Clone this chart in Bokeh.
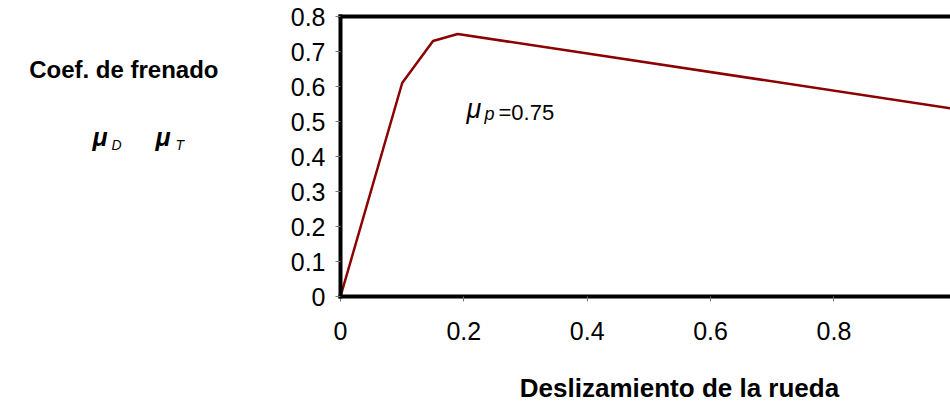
from bokeh.plotting import figure
from bokeh.layouts import column, row
from bokeh.models import (LinearAxis, FixedTicker, CustomJSTickFormatter,
                          Label, Range1d)
from bokeh.embed import file_html
from bokeh.resources import INLINE

# Brake coefficient versus wheel slip
slip = [0.0, 0.0, 0.10, 0.15, 0.19, 1.00]
brake_coef = [0.04, 0.0, 0.61, 0.73, 0.75, 0.535]
mu_peak = max(brake_coef)

x_ticks = [0, 0.2, 0.4, 0.6, 0.8, 1.0]
y_ticks = [0, 0.1, 0.2, 0.3, 0.4, 0.5, 0.6, 0.7, 0.8]

FONT = "Liberation Sans"
W, H = 950, 402
SIDE_W = 230          # strip holding the y title
TOP_H = 352           # height of the chart row
FRAME_LEFT = 340      # page x of the plot frame's left edge
FRAME_BOTTOM = 296    # page y of the plot frame's bottom edge
LIFT = 0.36           # label anchor sits this many ems below the glyph baseline


def text_strip(width, height):
    """A bare figure whose data units are pixels from its top-left corner."""
    f = figure(width=width, height=height, title=None,
               x_range=Range1d(0, width), y_range=Range1d(height, 0),
               output_backend="svg", toolbar_location=None,
               min_border=0, x_axis_location=None, y_axis_location=None)
    f.outline_line_color = None
    f.grid.visible = False
    f.background_fill_color = "white"
    f.border_fill_color = "white"
    return f


def put(fig, text, x, y, size, style="normal", align="left"):
    fig.add_layout(Label(x=x, y=y - LIFT * size, text=text, text_font=FONT,
                         text_font_size=f"{size}px", text_font_style=style,
                         text_align=align, text_baseline="alphabetic",
                         text_color="black"))


# ---- main chart -----------------------------------------------------------
p = figure(width=W - SIDE_W, height=TOP_H, title=None,
           x_range=Range1d(0, 0.989), y_range=Range1d(0, 0.8),
           output_backend="svg", toolbar_location=None,
           min_border_left=FRAME_LEFT - SIDE_W, min_border_right=0,
           min_border_top=16, min_border_bottom=TOP_H - FRAME_BOTTOM)
p.outline_line_color = None
p.xgrid.grid_line_color = None
p.ygrid.grid_line_color = None
p.background_fill_color = "white"
p.border_fill_color = "white"

fmt = CustomJSTickFormatter(code="return String(Math.round(tick * 10) / 10)")
p.xaxis.ticker = FixedTicker(ticks=x_ticks)
p.yaxis.ticker = FixedTicker(ticks=y_ticks)
for ax in (p.xaxis[0], p.yaxis[0]):
    ax.formatter = fmt
    ax.axis_line_width = 4
    ax.axis_line_color = "black"
    ax.axis_line_cap = "square"
    ax.major_tick_in = 0
    ax.major_tick_out = 5
    ax.major_tick_line_color = "#777777"
    ax.major_tick_line_width = 1
    ax.minor_tick_line_color = None
    ax.major_label_text_font = FONT
    ax.major_label_text_font_size = "25px"
    ax.major_label_text_color = "black"
p.yaxis.major_label_standoff = 10
p.xaxis.major_label_standoff = 20

top = LinearAxis(ticker=FixedTicker(ticks=[]), axis_line_width=4,
                 axis_line_color="black", axis_line_cap="square",
                 major_tick_line_color=None, minor_tick_line_color=None,
                 major_label_text_font_size="0px")
p.add_layout(top, "above")

p.line(slip, brake_coef, line_color="#8B0000", line_width=2.5)


def note(text, x, y, size, style="normal"):
    # x, y: page pixels from the top-left corner, turned into frame offsets
    p.add_layout(Label(x=x - FRAME_LEFT, y=FRAME_BOTTOM - y + LIFT * size,
                       x_units="screen", y_units="screen",
                       text=text, text_font=FONT, text_font_size=f"{size}px",
                       text_font_style=style, text_align="left",
                       text_baseline="alphabetic", text_color="black"))


note("μ", 466, 118, 27, "italic")
note("p", 484, 120, 18, "italic")
note(f"={mu_peak:.2f}", 498, 120, 22)

# ---- y title strip ----------------------------------------------------------
side = text_strip(SIDE_W, TOP_H)
put(side, "Coef. de frenado", 218, 75, 24, "bold", "right")
put(side, "μ", 92, 160, 25, "bold italic")
put(side, "D", 111, 166, 14, "italic")
put(side, "μ", 155, 160, 25, "bold italic")
put(side, "T", 175, 166, 14, "italic")

# ---- x title strip ----------------------------------------------------------
bottom = text_strip(W, H - TOP_H)
put(bottom, "Deslizamiento de la rueda", 679, 397 - TOP_H, 26, "bold",
    "center")

layout = column(row(side, p, spacing=0), bottom, spacing=0)
open("out.html", "w").write(file_html(layout, INLINE))
